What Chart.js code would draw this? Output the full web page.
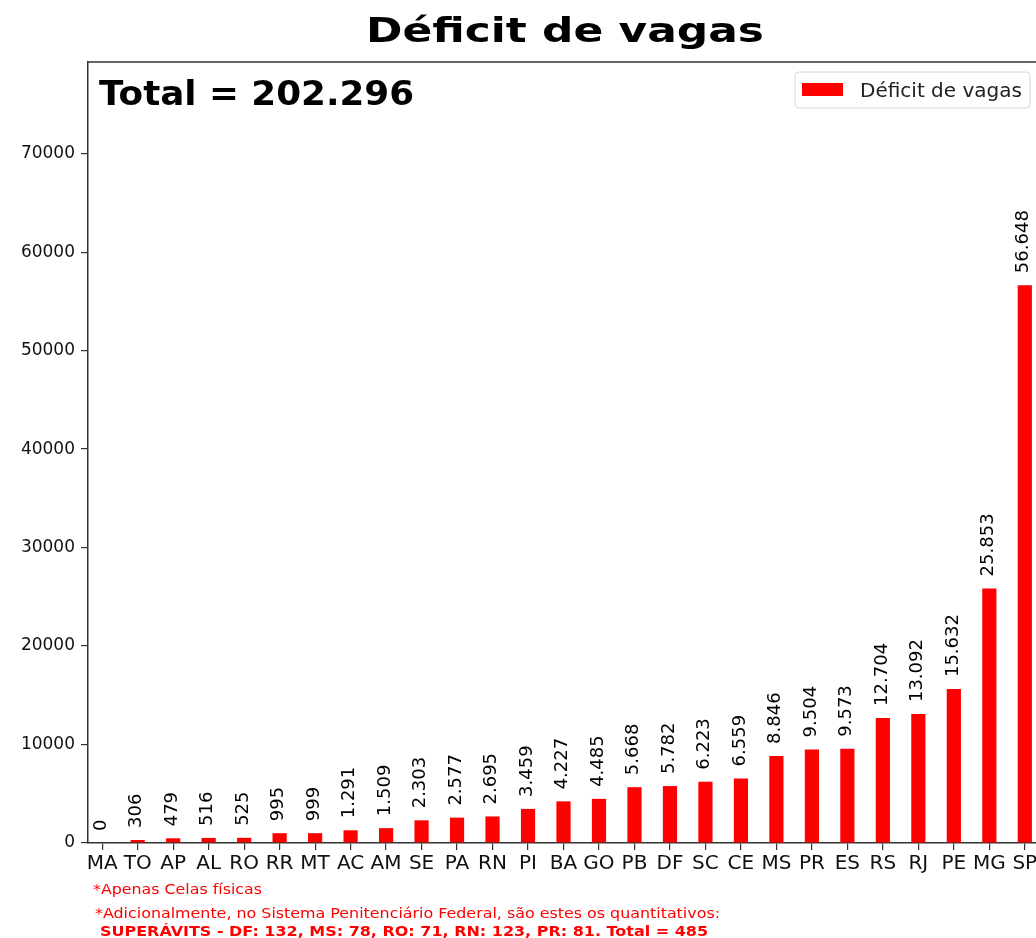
<!DOCTYPE html>
<html>
<head>
<meta charset="utf-8">
<script src="https://cdn.jsdelivr.net/npm/chart.js@4.4.1/dist/chart.umd.min.js"></script>
<style>
html, body { margin: 0; padding: 0; overflow: hidden; background: #fff; width: 1036px; height: 938px; }
#wrap { width: 1040px; height: 938px; position: relative; }
canvas { display: block; }
</style>
</head>
<body>
<div id="wrap"><canvas id="c" width="1040" height="938"></canvas></div>
<script>
// ---- data ----
const categories = ['MA','TO','AP','AL','RO','RR','MT','AC','AM','SE','PA','RN','PI','BA','GO','PB','DF','SC','CE','MS','PR','ES','RS','RJ','PE','MG','SP'];
const deficit = [0,306,479,516,525,995,999,1291,1509,2303,2577,2695,3459,4227,4485,5668,5782,6223,6559,8846,9504,9573,12704,13092,15632,25853,56648];
const yTickValues = [0,10000,20000,30000,40000,50000,60000,70000];
const seriesName = 'Déficit de vagas';
const chartTitle = 'Déficit de vagas';
const totalText = 'Total = 202.296';
const footnotes = [
  '*Apenas Celas físicas',
  '*Adicionalmente, no Sistema Penitenciário Federal, são estes os quantitativos:',
  'SUPERÁVITS - DF: 132, MS: 78, RO: 71, RN: 123, PR: 81. Total = 485'
];

const FONT = "'DejaVu Sans', sans-serif";
const fmt = v => String(v).replace(/\B(?=(\d{3})+(?!\d))/g, '.');

function fitText(ctx, text, x, y, width) {
  const w = ctx.measureText(text).width;
  ctx.save();
  ctx.translate(x, y);
  ctx.scale(width / w, 1);
  ctx.fillText(text, 0, 0);
  ctx.restore();
}

const decor = {
  id: 'decor',
  afterDatasetsDraw(chart) {
    const ctx = chart.ctx;
    const meta = chart.getDatasetMeta(0);
    ctx.save();
    ctx.fillStyle = '#000';
    ctx.font = '18px ' + FONT;
    ctx.textAlign = 'left';
    ctx.textBaseline = 'middle';
    meta.data.forEach((bar, i) => {
      ctx.save();
      ctx.translate(bar.x - 1, bar.y - 12);
      ctx.rotate(-Math.PI / 2);
      ctx.fillText(fmt(deficit[i]), 0, 0);
      ctx.restore();
    });
    ctx.restore();
  },
  afterDraw(chart) {
    const ctx = chart.ctx;
    const a = chart.chartArea;
    ctx.save();
    // spines top/right
    ctx.strokeStyle = '#333';
    ctx.lineWidth = 1.5;
    ctx.beginPath();
    ctx.moveTo(a.left, a.top);
    ctx.lineTo(a.right, a.top);
    ctx.lineTo(a.right, a.bottom);
    ctx.stroke();
    // title
    ctx.fillStyle = '#000';
    ctx.textBaseline = 'alphabetic';
    ctx.textAlign = 'left';
    ctx.font = 'bold 34px ' + FONT;
    fitText(ctx, chartTitle, 366, 42, 398);
    // total
    ctx.font = 'bold 34px ' + FONT;
    fitText(ctx, totalText, 99, 105, 315);
    // legend
    const lx = 795, ly = 72, lw = 235, lh = 36, r = 4;
    ctx.beginPath();
    ctx.moveTo(lx + r, ly);
    ctx.lineTo(lx + lw - r, ly);
    ctx.quadraticCurveTo(lx + lw, ly, lx + lw, ly + r);
    ctx.lineTo(lx + lw, ly + lh - r);
    ctx.quadraticCurveTo(lx + lw, ly + lh, lx + lw - r, ly + lh);
    ctx.lineTo(lx + r, ly + lh);
    ctx.quadraticCurveTo(lx, ly + lh, lx, ly + lh - r);
    ctx.lineTo(lx, ly + r);
    ctx.quadraticCurveTo(lx, ly, lx + r, ly);
    ctx.closePath();
    ctx.fillStyle = 'rgba(255,255,255,0.8)';
    ctx.fill();
    ctx.strokeStyle = '#d6d6d6';
    ctx.lineWidth = 1;
    ctx.stroke();
    ctx.fillStyle = chart.data.datasets[0].backgroundColor;
    ctx.fillRect(802, 83, 41, 13);
    ctx.fillStyle = '#222';
    ctx.font = '19px ' + FONT;
    fitText(ctx, chart.data.datasets[0].label, 860, 97, 162);
    // footnotes
    ctx.fillStyle = '#ff0000';
    ctx.font = '14px ' + FONT;
    fitText(ctx, footnotes[0], 93, 894, 169);
    fitText(ctx, footnotes[1], 95, 918, 625);
    ctx.font = 'bold 14px ' + FONT;
    fitText(ctx, footnotes[2], 100, 936, 608);
    ctx.restore();
  }
};

new Chart(document.getElementById('c'), {
  type: 'bar',
  data: {
    datasets: [{
      label: seriesName,
      data: deficit.map((v, i) => ({ x: i, y: v })),
      backgroundColor: '#ff0000',
      borderWidth: 0,
      barPercentage: 0.4,
      categoryPercentage: 1.0
    }]
  },
  options: {
    responsive: false,
    animation: false,
    devicePixelRatio: 1,
    layout: { padding: { top: 62, right: 1, left: 0, bottom: 0 } },
    plugins: { legend: { display: false }, tooltip: { enabled: false }, title: { display: false } },
    scales: {
      x: {
        type: 'linear',
        offset: false,
        min: -0.4,
        max: categories.length - 1 + 0.4,
        afterBuildTicks: s => { s.ticks = categories.map((c, i) => ({ value: i })); },
        afterFit: s => { s.height = 95; },
        ticks: {
          autoSkip: false,
          maxRotation: 0,
          minRotation: 0,
          padding: 2,
          color: '#111',
          font: { family: FONT, size: 20 },
          callback: v => categories[v] ?? ''
        },
        grid: { offset: false, drawOnChartArea: false, drawTicks: true, tickLength: 7, color: '#333', lineWidth: 1.2 },
        border: { display: true, color: '#333', width: 1.5 }
      },
      y: {
        min: 0,
        max: 79307,
        afterBuildTicks: s => { s.ticks = yTickValues.map(v => ({ value: v })); },
        afterFit: s => { s.width = 88; },
        ticks: {
          padding: 6,
          color: '#111',
          font: { family: FONT, size: 17 },
          callback: v => String(v)
        },
        grid: { drawOnChartArea: false, drawTicks: true, tickLength: 7, color: '#333', lineWidth: 1.2 },
        border: { display: true, color: '#333', width: 1.5 }
      }
    }
  },
  plugins: [decor]
});
</script>
</body>
</html>
